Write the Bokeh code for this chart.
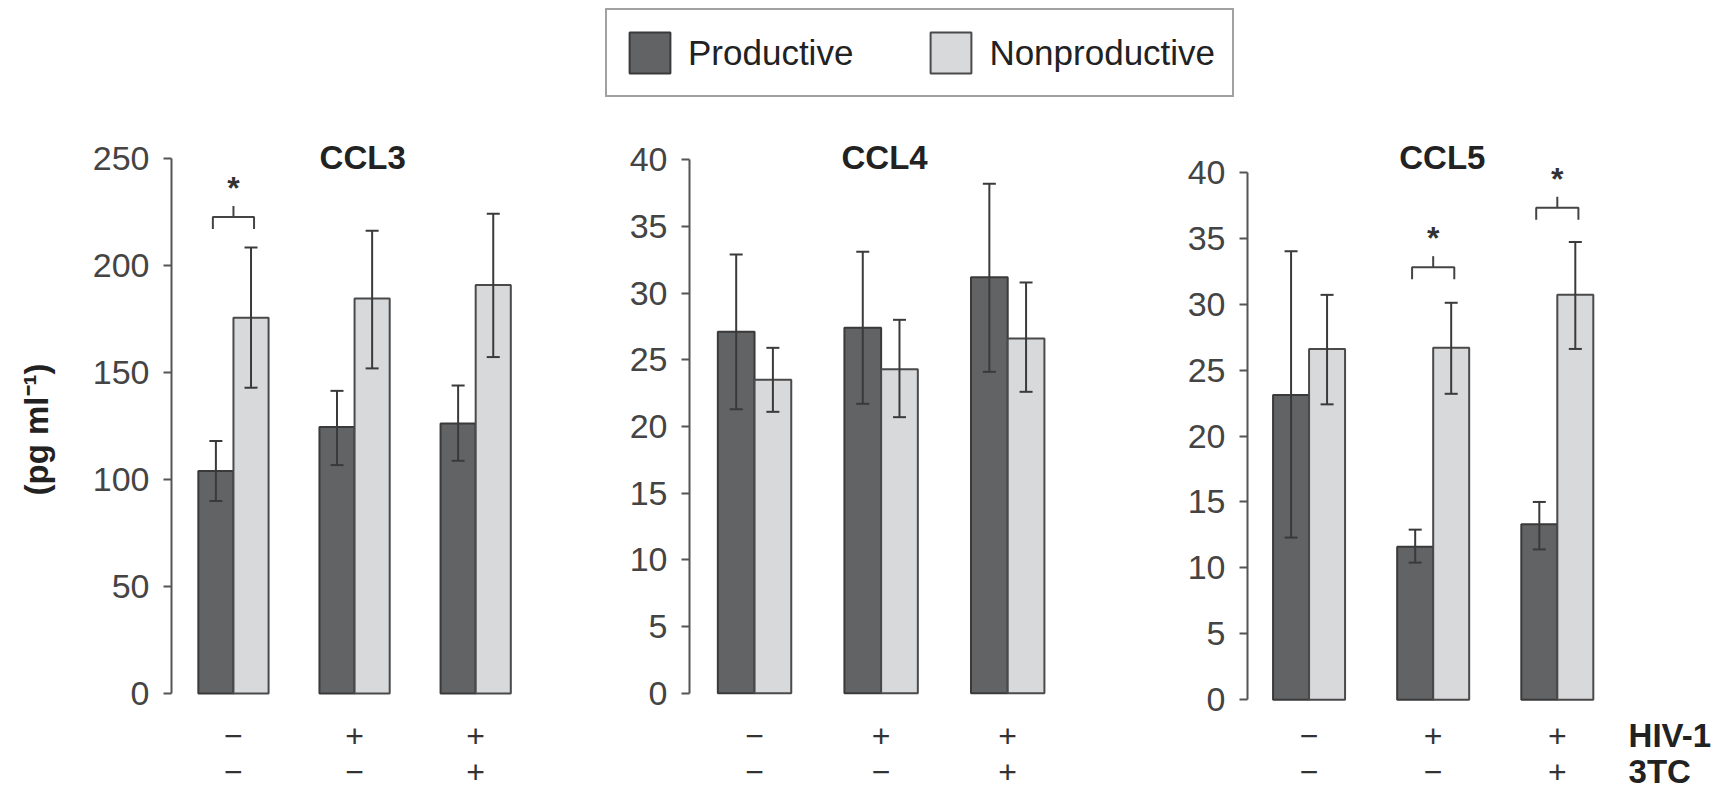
import math
from bokeh.plotting import figure
from bokeh.models import ColumnDataSource, Whisker, TeeHead, FixedTicker, Legend, LegendItem
from bokeh.layouts import column, row
from bokeh.embed import file_html
from bokeh.resources import INLINE
from bokeh.core.properties import value

# ---------------- data ----------------
groups = [0, 1, 2]
hiv1_signs = ["\u2212", "+", "+"]
tc3_signs = ["\u2212", "\u2212", "+"]
row_titles = ["HIV-1", "3TC"]
series_names = ["Productive", "Nonproductive"]
y_title = "(pg ml\u207b\u00b9)"

ccl3_prod = [104.0, 124.6, 126.2]
ccl3_prod_lo = [90.0, 106.8, 108.8]
ccl3_prod_hi = [118.0, 141.5, 144.0]
ccl3_non = [175.7, 184.7, 191.0]
ccl3_non_lo = [143.0, 152.0, 157.3]
ccl3_non_hi = [208.5, 216.4, 224.3]

ccl4_prod = [27.1, 27.4, 31.2]
ccl4_prod_lo = [21.3, 21.7, 24.1]
ccl4_prod_hi = [32.9, 33.1, 38.2]
ccl4_non = [23.5, 24.3, 26.6]
ccl4_non_lo = [21.1, 20.7, 22.6]
ccl4_non_hi = [25.9, 28.0, 30.8]

ccl5_prod = [23.1, 11.6, 13.3]
ccl5_prod_lo = [12.3, 10.4, 11.4]
ccl5_prod_hi = [34.0, 12.9, 15.0]
ccl5_non = [26.6, 26.7, 30.7]
ccl5_non_lo = [22.4, 23.2, 26.6]
ccl5_non_hi = [30.7, 30.1, 34.7]

# significance brackets: group index and bracket level (data units)
ccl3_sig_groups = [0]
ccl3_sig_levels = [222.8]
ccl4_sig_groups = []
ccl4_sig_levels = []
ccl5_sig_groups = [1, 2]
ccl5_sig_levels = [32.8, 37.3]

# ---------------- style ----------------
FONT = "Liberation Sans"
DARK = "#626365"
LIGHT = "#d8d9db"
EDGE = "#3a3a3a"
AXIS = "#555555"
TXT = "#222222"
BAR_W = 0.29

PAGE_W = 1727
LABEL_W = 70       # strip holding the rotated y title
ROW_TOP = 125      # page y where panel figures begin
ROW_BOTTOM = 792   # page y where they end
ROW1_PX = 735
ROW2_PX = 771


def base_fig(width, height, xr, yr, **kw):
    p = figure(width=width, height=height, x_range=xr, y_range=yr,
               x_axis_location=None, toolbar_location=None,
               output_backend="svg", tools="", outline_line_color=None,
               background_fill_color="white", border_fill_color="white", **kw)
    p.grid.visible = False
    return p


def make_panel(name, prod, prod_lo, prod_hi, non, non_lo, non_hi, ymax, step,
               sig_groups, sig_levels, geo, row_labels=False):
    fig_x0, width, axis_px, c1_px, sp_px, zero_px, ymax_px, title_px = geo
    k = (zero_px - ymax_px) / ymax
    y_start = -(ROW_BOTTOM - zero_px) / k
    y_end = (zero_px - ROW_TOP) / k
    x_start = (axis_px - c1_px) / sp_px
    x_end = x_start + (fig_x0 + width - axis_px) / sp_px

    p = base_fig(width, ROW_BOTTOM - ROW_TOP, (x_start, x_end), (y_start, y_end),
                 min_border_left=int(round(axis_px - fig_x0)), min_border_right=0,
                 min_border_top=0, min_border_bottom=0)

    src = ColumnDataSource(dict(
        xd=[g - BAR_W / 2 for g in groups], xl=[g + BAR_W / 2 for g in groups],
        prod=prod, prod_lo=prod_lo, prod_hi=prod_hi,
        non=non, non_lo=non_lo, non_hi=non_hi))

    p.vbar(x="xd", top="prod", bottom=0, width=BAR_W, source=src,
           fill_color=DARK, line_color=EDGE, line_width=2)
    p.vbar(x="xl", top="non", bottom=0, width=BAR_W, source=src,
           fill_color=LIGHT, line_color="#4a4a4a", line_width=2)

    for base, lo, hi in (("xd", "prod_lo", "prod_hi"), ("xl", "non_lo", "non_hi")):
        w = Whisker(source=src, base=base, lower=lo, upper=hi,
                    line_color=EDGE, line_width=2, level="overlay",
                    upper_head=TeeHead(size=13, line_color=EDGE, line_width=2),
                    lower_head=TeeHead(size=13, line_color=EDGE, line_width=2))
        p.add_layout(w)

    # significance brackets
    if sig_groups:
        half = 0.17
        drop = 12 / k
        rise = 11 / k
        xs, ys = [], []
        for g, lev in zip(sig_groups, sig_levels):
            xs.append([g - half, g - half, g + half, g + half])
            ys.append([lev - drop, lev, lev, lev - drop])
            xs.append([g, g])
            ys.append([lev, lev + rise])
        p.multi_line(xs=xs, ys=ys, line_color="#444444", line_width=2)
        p.text(x=sig_groups, y=[lev + 37 / k for lev in sig_levels],
               text=["*"] * len(sig_groups), text_font=value(FONT),
               text_font_style="bold", text_font_size="32px",
               text_align="center", text_baseline="middle", y_offset=8,
               text_color="#333333")

    # title
    p.text(x=[(title_px - c1_px) / sp_px], y=[(zero_px - 157) / k], text=[name],
           text_font=value(FONT), text_font_style="bold", text_font_size="33px",
           text_align="center", text_baseline="middle", text_color=TXT)

    # condition rows
    y1 = -(ROW1_PX - zero_px) / k
    y2 = -(ROW2_PX - zero_px) / k
    p.text(x=groups, y=[y1] * 3, text=hiv1_signs, text_font=value(FONT),
           text_font_size="32px", text_align="center", text_baseline="middle",
           text_color="#333333")
    p.text(x=groups, y=[y2] * 3, text=tc3_signs, text_font=value(FONT),
           text_font_size="32px", text_align="center", text_baseline="middle",
           text_color="#333333")
    if row_labels:
        p.text(x=[(1628 - c1_px) / sp_px] * 2, y=[y1, y2], text=row_titles,
               text_font=value(FONT), text_font_style="bold",
               text_font_size="33px", text_align="left",
               text_baseline="middle", text_color=TXT)

    ax = p.yaxis[0]
    ax.ticker = FixedTicker(ticks=list(range(0, ymax + 1, step)))
    ax.bounds = (0, ymax)
    ax.axis_line_color = AXIS
    ax.axis_line_width = 2
    ax.major_tick_line_color = AXIS
    ax.major_tick_line_width = 2
    ax.major_tick_out = 8
    ax.major_tick_in = 0
    ax.minor_tick_line_color = None
    ax.major_label_text_font = FONT
    ax.major_label_text_font_size = "34px"
    ax.major_label_text_color = "#444444"
    ax.major_label_standoff = 14
    return p


# geometry: fig_x0, width, axis_px, first centre px, group spacing px, zero px, ymax px, title px
p1 = make_panel("CCL3", ccl3_prod, ccl3_prod_lo, ccl3_prod_hi, ccl3_non, ccl3_non_lo, ccl3_non_hi,
                250, 50, ccl3_sig_groups, ccl3_sig_levels,
                (LABEL_W, 590 - LABEL_W, 170.7, 232.7, 121.2, 693.0, 158.3, 362.0))
p2 = make_panel("CCL4", ccl4_prod, ccl4_prod_lo, ccl4_prod_hi, ccl4_non, ccl4_non_lo, ccl4_non_hi,
                40, 5, ccl4_sig_groups, ccl4_sig_levels,
                (590, 560, 689.3, 754.3, 126.5, 692.7, 159.3, 884.3))
p3 = make_panel("CCL5", ccl5_prod, ccl5_prod_lo, ccl5_prod_hi, ccl5_non, ccl5_non_lo, ccl5_non_hi,
                40, 5, ccl5_sig_groups, ccl5_sig_levels,
                (1150, PAGE_W - 1150, 1246.7, 1308.3, 124.2, 699.3, 171.7, 1441.7),
                row_labels=True)

# strip with the rotated y-axis title (pixel ranges)
p0 = base_fig(LABEL_W, ROW_BOTTOM - ROW_TOP, (0, LABEL_W), (ROW_BOTTOM, ROW_TOP),
              y_axis_location=None, min_border=0)
p0.text(x=[36], y=[429], text=[y_title], angle=math.pi / 2,
        text_font=value(FONT), text_font_style="bold", text_font_size="33px",
        text_align="center", text_baseline="middle", text_color=TXT)

# legend strip
lf = base_fig(PAGE_W, ROW_TOP, (0, 1), (0, 1), y_axis_location=None, min_border=0)
# hidden renderers: they only feed the legend swatches
r_dark = lf.vbar(x=[0.5], top=[0.5], width=0.1, fill_color=DARK, line_color=EDGE,
                 line_width=2, visible=False)
r_light = lf.vbar(x=[0.5], top=[0.5], width=0.1, fill_color=LIGHT, line_color="#4a4a4a",
                  line_width=2, visible=False)
legend = Legend(items=[LegendItem(label=series_names[0], renderers=[r_dark]),
                       LegendItem(label=series_names[1], renderers=[r_light])],
                orientation="horizontal", location=(605, 28), margin=0,
                padding=17, spacing=72, glyph_width=51, glyph_height=51,
                label_standoff=13, label_text_font=FONT, label_text_font_size="35px",
                label_text_color=TXT, border_line_color="#444444", border_line_width=2,
                background_fill_color="white", background_fill_alpha=1.0)
lf.add_layout(legend, "center")

layout = column(lf, row(p0, p1, p2, p3, spacing=0), spacing=0)
open("out.html", "w").write(file_html(layout, INLINE))
